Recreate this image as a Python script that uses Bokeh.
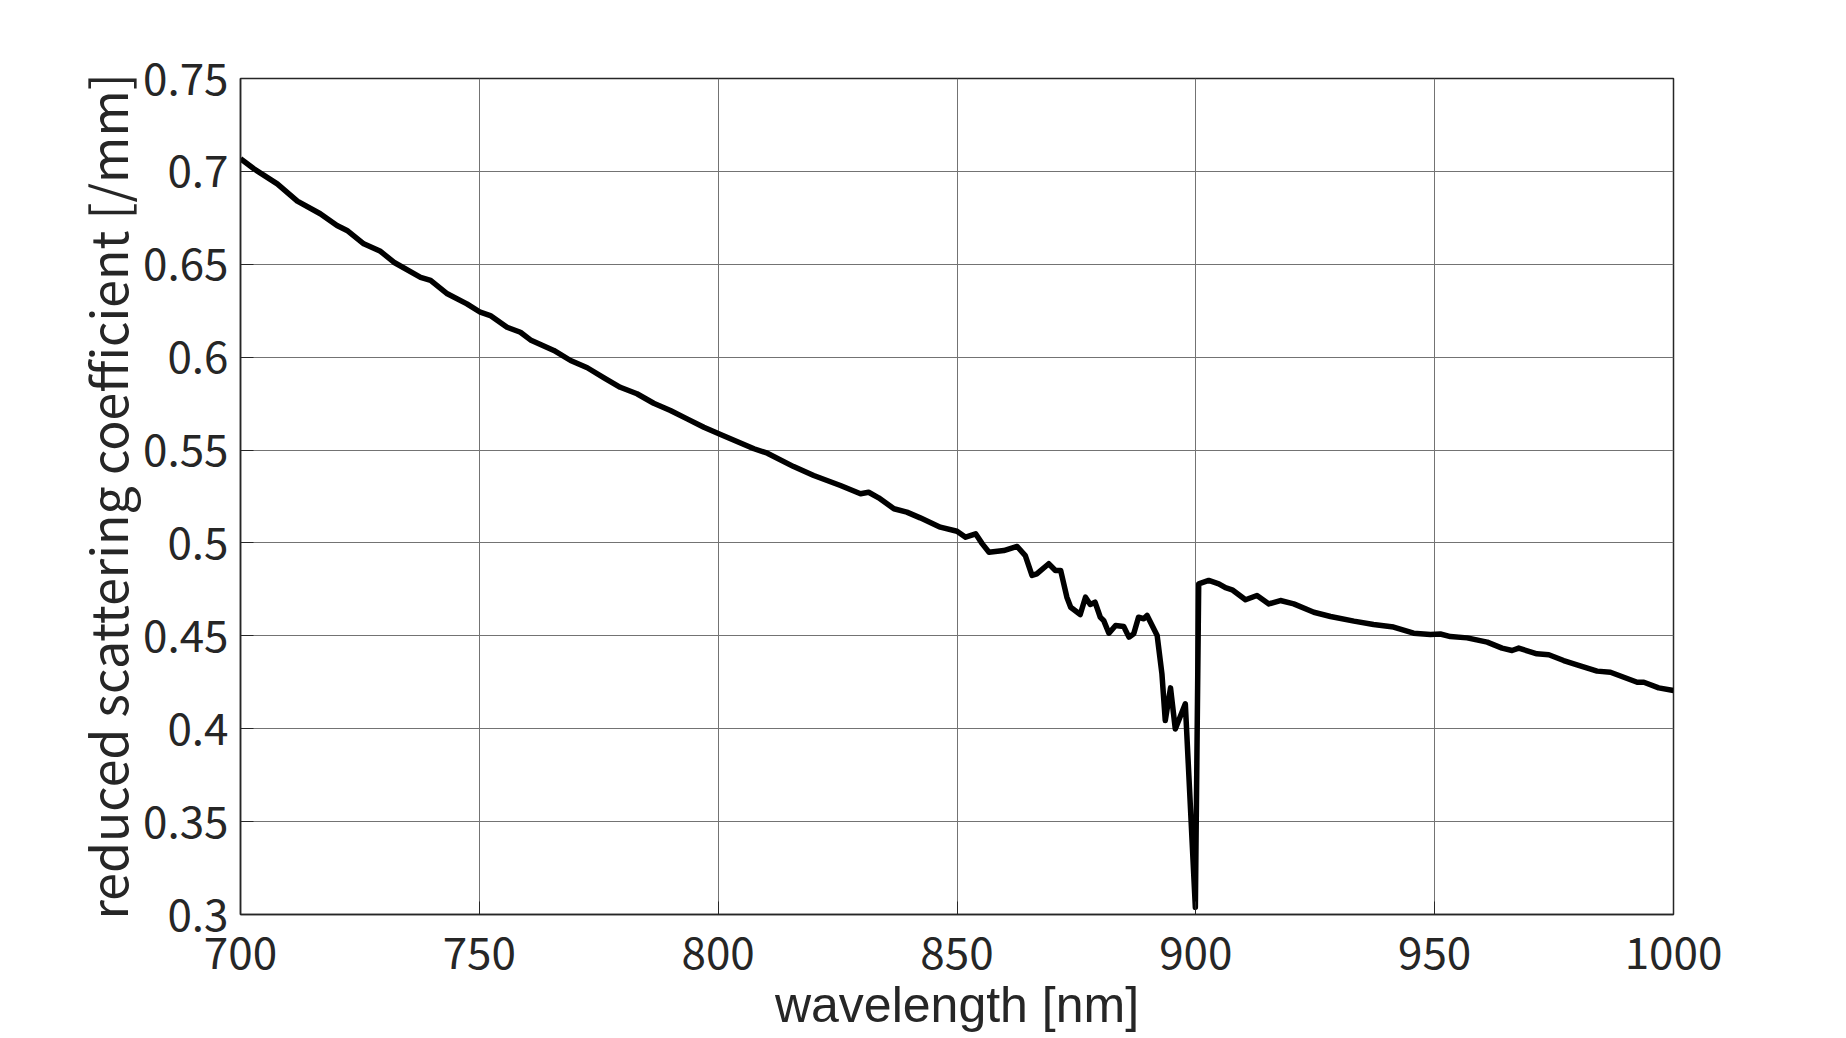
from bokeh.plotting import figure
from bokeh.models import Range1d, FixedTicker, ColumnDataSource
from bokeh.embed import file_html
from bokeh.resources import INLINE

wavelength = [700, 702.8, 707.7, 711.9, 716.7, 720.2, 722.3, 725.8, 729.3, 732.1, 737.7, 739.8,
              743.3, 747.4, 750.2, 752.3, 755.8, 758.6, 760.7, 765.6, 769.1, 772.6, 776.1, 779.5,
              783.0, 786.5, 790.0, 793.5, 797.0, 800.5, 807.5, 810.3, 815.8, 820.0, 825.6, 829.8,
              831.5, 833.6, 836.8, 839.5, 842.3, 846.5, 850.0, 851.8, 853.9, 855.3, 856.7, 859.8,
              862.6, 864.3, 865.7, 866.7, 869.2, 870.6, 871.7, 873.0, 873.8, 875.8, 876.9, 877.9,
              878.9, 880.0, 880.7, 881.8, 883.2, 884.9, 886.0, 887.0, 888.0, 889.1, 889.8, 891.9,
              892.9, 893.6, 894.7, 895.7, 897.8, 899.9, 900.6, 902.7, 904.8, 906.2, 907.6, 910.4,
              912.8, 915.3, 917.7, 920.5, 924.7, 928.2, 933.1, 937.2, 941.4, 945.6, 949.1, 951.2,
              953.3, 956.8, 961.0, 964.1, 966.2, 967.6, 971.4, 973.9, 977.0, 979.8, 984.0, 986.8,
              989.6, 992.4, 993.8, 996.9, 1000]
mus = [0.7068, 0.7014, 0.6933, 0.6840, 0.6772, 0.6709, 0.6682, 0.6610, 0.6570, 0.6511, 0.6430, 0.6413,
       0.6341, 0.6287, 0.6242, 0.6224, 0.6161, 0.6134, 0.6093, 0.6036, 0.5982, 0.5943, 0.5889, 0.5838,
       0.5803, 0.5752, 0.5713, 0.5668, 0.5623, 0.5584, 0.5507, 0.5483, 0.5411, 0.5363, 0.5309, 0.5265,
       0.5273, 0.5243, 0.5184, 0.5166, 0.5135, 0.5085, 0.5063, 0.5031, 0.5049, 0.4995, 0.4950, 0.4959,
       0.4981, 0.4932, 0.4825, 0.4834, 0.4888, 0.4852, 0.4852, 0.4708, 0.4654, 0.4615, 0.4708, 0.4669,
       0.4681, 0.4600, 0.4583, 0.4514, 0.4556, 0.4550, 0.4493, 0.4511, 0.4600, 0.4592, 0.4610, 0.4502,
       0.4296, 0.4044, 0.4220, 0.3999, 0.4134, 0.3039, 0.4780, 0.4798, 0.4780, 0.4759, 0.4748, 0.4694,
       0.4717, 0.4672, 0.4690, 0.4672, 0.4627, 0.4604, 0.4579, 0.4561, 0.4547, 0.4514, 0.4507, 0.4510,
       0.4496, 0.4489, 0.4466, 0.4434, 0.4421, 0.4434, 0.4403, 0.4398, 0.4367, 0.4344, 0.4310, 0.4304,
       0.4277, 0.4250, 0.4250, 0.4220, 0.4206]

x_ticks = [700, 750, 800, 850, 900, 950, 1000]
y_ticks = [0.3, 0.35, 0.4, 0.45, 0.5, 0.55, 0.6, 0.65, 0.7, 0.75]
y_tick_labels = ["0.3", "0.35", "0.4", "0.45", "0.5", "0.55", "0.6", "0.65", "0.7", "0.75"]
x_title = "wavelength [nm]"
y_title = "reduced scattering coefficient [/mm]"

FONT = "Noto Sans CJK JP"
AX = "#262626"

p = figure(width=1830, height=1038, output_backend="svg", toolbar_location=None,
           x_range=Range1d(700, 1000), y_range=Range1d(0.3, 0.75),
           min_border_left=240, min_border_right=157, min_border_top=78, min_border_bottom=124)
p.background_fill_color = "white"
p.border_fill_color = "white"
p.outline_line_color = AX
p.outline_line_width = 1.5
p.outline_line_alpha = 1.0

src = ColumnDataSource(dict(x=wavelength, y=mus))
p.line("x", "y", source=src, line_color="black", line_width=5.5, line_join="round")

p.xaxis.ticker = FixedTicker(ticks=x_ticks)
p.yaxis.ticker = FixedTicker(ticks=y_ticks)
p.yaxis.major_label_overrides = {t: s for t, s in zip(y_ticks, y_tick_labels)}
p.xaxis.major_label_overrides = {t: str(t) for t in x_ticks}

for ax in (p.xaxis, p.yaxis):
    ax.axis_line_color = AX
    ax.axis_line_width = 1.5
    ax.major_tick_in = 13
    ax.major_tick_out = 0
    ax.major_tick_line_color = AX
    ax.minor_tick_line_color = None
    ax.major_label_text_font = FONT
    ax.major_label_text_font_size = "44px"
    ax.major_label_text_color = AX
    ax.axis_label_text_font_style = "normal"
    ax.axis_label_text_color = AX

p.yaxis.axis_label = y_title
p.yaxis.axis_label_text_font = FONT
p.yaxis.axis_label_text_font_size = "50px"
p.xaxis.axis_label = x_title
p.xaxis.axis_label_text_font = "Liberation Sans"
p.xaxis.axis_label_text_font_size = "50px"

p.xaxis.major_label_standoff = 22
p.yaxis.major_label_standoff = 12
p.xaxis.axis_label_standoff = 5
p.yaxis.axis_label_standoff = -2

p.xgrid.grid_line_color = "#737373"
p.ygrid.grid_line_color = "#737373"
p.xgrid.grid_line_width = 1
p.ygrid.grid_line_width = 1

open("out.html", "w").write(file_html(p, INLINE))
